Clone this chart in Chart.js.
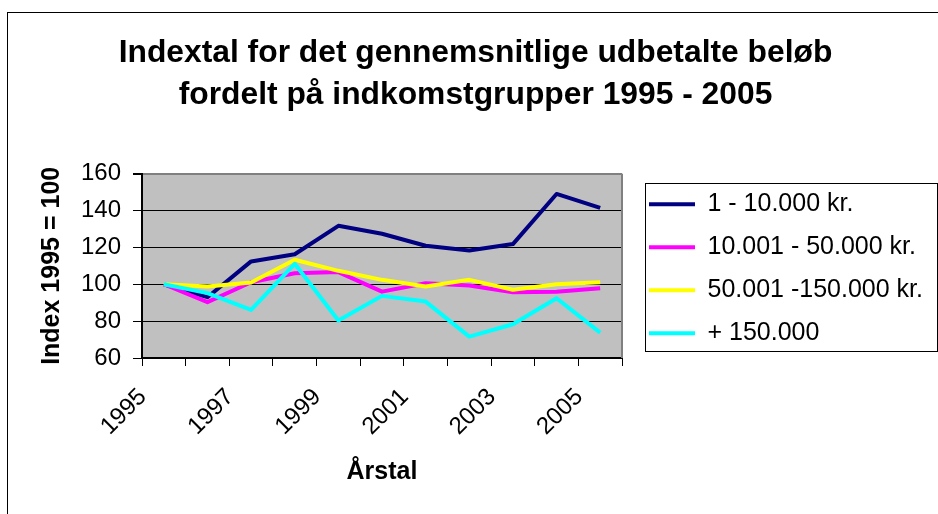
<!DOCTYPE html>
<html>
<head>
<meta charset="utf-8">
<title>Indextal 1995 - 2005</title>
<script src="https://cdn.jsdelivr.net/npm/chart.js@4"></script>
<style>
  html, body { margin: 0; padding: 0; background: #fff; overflow: hidden; }
  #wrap { position: relative; width: 938px; height: 514px; }
  #frame { position: absolute; left: 7px; top: 12px; width: 1000px; height: 1000px; border: 1px solid #000; box-sizing: border-box; }
  #wrap canvas { position: absolute; left: 0; top: 0; }
</style>
</head>
<body>
<div id="wrap">
  <div id="frame"></div>
  <canvas id="chart"></canvas>
</div>
<script>
const years = ['1995', '1996', '1997', '1998', '1999', '2000', '2001', '2002', '2003', '2004', '2005']
const yTickValues = [60, 80, 100, 120, 140, 160]
const seriesLabels = ['1 - 10.000 kr.', '10.001 - 50.000 kr.', '50.001 -150.000 kr.', '+ 150.000']

const upTo10k = [100, 93, 112.4, 116.3, 131.7, 127.4, 120.9, 118.3, 121.8, 149, 141.4]
const from10kTo50k = [100, 90.3, 101.1, 106, 106.6, 96, 100.6, 99.3, 95.7, 96, 97.9]
const from50kTo150k = [100, 98.8, 101, 113.3, 107.3, 102.4, 98.8, 102.4, 97, 100, 101.1]
const over150k = [100, 95.2, 86.1, 111.1, 80.3, 93.7, 90.6, 71.6, 78.3, 92.4, 73.8]

Chart.defaults.font.family = "'Liberation Sans', Arial, sans-serif"
Chart.defaults.color = '#000'

// grey plot area, grey right edge, boxed legend beside the plot
const excelLook = {
  id: 'excelLook',
  afterLayout (chart) {
    const legend = chart.legend
    const area = chart.chartArea
    legend.left = area.right + 9
    legend.top = area.top
    legend.width = 300
    legend.height = 400
    legend.right = legend.left + legend.width
    legend.bottom = legend.top + legend.height
  },
  beforeDraw (chart) {
    const { ctx, chartArea: area } = chart
    ctx.save()
    ctx.fillStyle = '#c0c0c0'
    ctx.fillRect(area.left, area.top, area.right - area.left, area.bottom - area.top)
    ctx.restore()
  },
  beforeDatasetsDraw (chart) {
    const { ctx, chartArea: area } = chart
    ctx.save()
    ctx.strokeStyle = '#808080'
    ctx.lineWidth = 2
    ctx.beginPath()
    ctx.moveTo(area.right, area.top)
    ctx.lineTo(area.right, area.bottom)
    ctx.stroke()
    ctx.restore()
  },
  afterDraw (chart) {
    const { ctx } = chart
    const legend = chart.legend
    ctx.save()
    ctx.strokeStyle = '#000'
    ctx.lineWidth = 1
    ctx.strokeRect(Math.round(legend.left + 14) + 0.5, Math.round(legend.top + 9) + 0.5, 292, 168)
    ctx.restore()
  }
}

new Chart(document.getElementById('chart'), {
  type: 'line',
  data: {
    labels: years,
    datasets: [
      { label: seriesLabels[0], data: upTo10k, borderColor: '#000080', backgroundColor: '#000080', order: 4 },
      { label: seriesLabels[1], data: from10kTo50k, borderColor: '#ff00ff', backgroundColor: '#ff00ff', order: 3 },
      { label: seriesLabels[2], data: from50kTo150k, borderColor: '#ffff00', backgroundColor: '#ffff00', order: 2 },
      { label: seriesLabels[3], data: over150k, borderColor: '#00ffff', backgroundColor: '#00ffff', order: 1 }
    ]
  },
  options: {
    responsive: true,
    maintainAspectRatio: false,
    animation: false,
    layout: { padding: { left: 13, right: 0, top: 0, bottom: 0 } },
    elements: {
      line: { borderWidth: 4, tension: 0, borderJoinStyle: 'round', fill: false },
      point: { radius: 0, hoverRadius: 0 }
    },
    scales: {
      x: {
        offset: true,
        grid: { offset: true, drawOnChartArea: false, color: '#000', tickLength: 8 },
        border: { color: '#000', width: 2 },
        ticks: {
          autoSkip: false,
          minRotation: 45,
          maxRotation: 45,
          padding: 17,
          labelOffset: -21,
          font: { size: 24 },
          callback: (value, index) => index % 2 === 0 ? years[index] : ''
        },
        title: { display: true, text: 'Årstal', font: { size: 25, weight: 'bold' }, padding: { top: 0, bottom: 27 } },
        afterFit (scale) { scale.height = 156 }
      },
      y: {
        min: 60,
        max: 160,
        grid: {
          color: c => c.tick && c.tick.value === 160 ? '#808080' : '#000',
          lineWidth: c => c.tick && c.tick.value === 160 ? 2 : 1,
          tickColor: '#000',
          tickLength: 9
        },
        border: { color: '#000', width: 2 },
        afterBuildTicks (scale) { scale.ticks = yTickValues.map(v => ({ value: v })) },
        ticks: { padding: 12, font: { size: 24 } },
        title: { display: true, text: 'Index 1995 = 100', font: { size: 25, weight: 'bold' }, padding: { top: 24, bottom: 0 } },
        afterFit (scale) { scale.width = 129 }
      },
      legendSpace: {
        type: 'linear',
        position: 'right',
        grid: { display: false },
        border: { display: false },
        ticks: { display: false },
        afterFit (scale) { scale.width = 316 }
      }
    },
    plugins: {
      title: {
        display: true,
        text: ['Indextal for det gennemsnitlige udbetalte beløb', 'fordelt på indkomstgrupper 1995 - 2005'],
        font: { size: 31.8, weight: 'bold', lineHeight: 1.3 },
        color: '#000',
        padding: { top: 33, bottom: 58 }
      },
      legend: {
        position: 'chartArea',
        align: 'start',
        labels: {
          boxWidth: 46,
          boxHeight: 4,
          padding: 18,
          font: { size: 25 },
          color: '#000',
          sort: (a, b) => a.datasetIndex - b.datasetIndex,
          generateLabels: chart => Chart.defaults.plugins.legend.labels.generateLabels(chart).map(item => Object.assign(item, { lineWidth: 0 }))
        }
      },
      tooltip: { enabled: false }
    }
  },
  plugins: [excelLook]
})
</script>
</body>
</html>
